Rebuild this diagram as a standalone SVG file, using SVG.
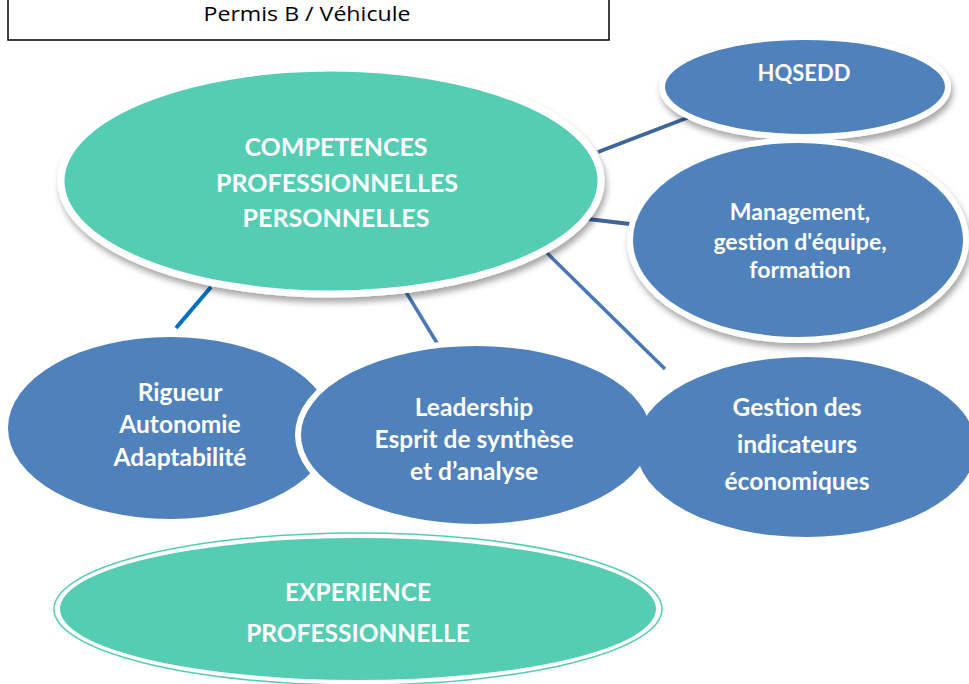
<svg xmlns="http://www.w3.org/2000/svg" width="969" height="684" viewBox="0 0 969 684">
<defs>
<style>
.t{font-family:Lato,"Open Sans","Liberation Sans",sans-serif;font-weight:bold;fill:#fff;text-anchor:middle}
.blue{fill:#4F81BD;stroke:#fff;stroke-width:6}
.con{fill:none;stroke-linecap:butt}
</style>
<filter id="sh" x="-10%" y="-10%" width="120%" height="130%">
<feDropShadow dx="2" dy="5" stdDeviation="3" flood-color="#000" flood-opacity="0.35"/>
</filter>
</defs>
<rect width="969" height="684" fill="#fff"/>
<g id="permis">
<rect x="8" y="-5" width="601" height="45" fill="#fff" stroke="#000" stroke-width="1.5"/>
<text x="307" y="21" textLength="207" lengthAdjust="spacingAndGlyphs" style="font-family:'Open Sans','Liberation Sans',sans-serif;font-size:20px;fill:#000;text-anchor:middle">Permis B / Véhicule</text>
</g>
<g id="connectors">
<line class="con" x1="598" y1="152" x2="692" y2="116" stroke="#3E6699" stroke-width="4"/>
<line class="con" x1="588" y1="219" x2="630" y2="224" stroke="#3E6699" stroke-width="4"/>
<line class="con" x1="547" y1="253" x2="665" y2="369" stroke="#4A78B5" stroke-width="3.5"/>
<line class="con" x1="211" y1="287" x2="176" y2="328" stroke="#0070C0" stroke-width="4"/>
<line class="con" x1="406" y1="292" x2="437" y2="343" stroke="#4A78B5" stroke-width="3.5"/>
</g>
<g id="competences">
<ellipse cx="331" cy="181" rx="270" ry="113" fill="#55CDB3" stroke="#fff" stroke-width="7" filter="url(#sh)"/>
<text class="t" x="336" y="156" font-size="25">COMPETENCES</text>
<text class="t" x="337" y="192" font-size="25">PROFESSIONNELLES</text>
<text class="t" x="336" y="227" font-size="25">PERSONNELLES</text>
</g>
<g id="hqsedd">
<ellipse class="blue" cx="805" cy="87" rx="143" ry="50" filter="url(#sh)"/>
<text class="t" x="804" y="81" font-size="22">HQSEDD</text>
</g>
<g id="management">
<ellipse class="blue" cx="798" cy="240" rx="168" ry="100" filter="url(#sh)"/>
<text class="t" x="800" y="220" font-size="23">Management,</text>
<text class="t" x="800" y="250" font-size="23">gestion d'équipe,</text>
<text class="t" x="800" y="278" font-size="23">formation</text>
</g>
<g id="rigueur">
<ellipse cx="170" cy="428" rx="162" ry="91" fill="#4F81BD"/>
<text class="t" x="180" y="401" font-size="24.5">Rigueur</text>
<text class="t" x="180" y="433" font-size="24.5">Autonomie</text>
<text class="t" x="180" y="466" font-size="24.5">Adaptabilité</text>
</g>
<g id="leadership">
<ellipse class="blue" cx="476" cy="435" rx="178" ry="92"/>
<text class="t" x="474" y="416" font-size="24.5">Leadership</text>
<text class="t" x="474" y="448" font-size="24.5">Esprit de synthèse</text>
<text class="t" x="474" y="480" font-size="24.5">et d’analyse</text>
</g>
<g id="gestion">
<ellipse cx="806" cy="447" rx="170" ry="90" fill="#4F81BD"/>
<text class="t" x="797" y="416" font-size="24.5">Gestion des</text>
<text class="t" x="797" y="453" font-size="24.5">indicateurs</text>
<text class="t" x="797" y="490" font-size="24.5">économiques</text>
</g>
<g id="experience">
<ellipse cx="358" cy="609" rx="304" ry="76" fill="none" stroke="#55CDB3" stroke-width="1.5"/>
<ellipse cx="358" cy="609" rx="298" ry="71" fill="#55CDB3"/>
<text class="t" x="358" y="601" font-size="24.5">EXPERIENCE</text>
<text class="t" x="358" y="642" font-size="24.5">PROFESSIONNELLE</text>
</g>
</svg>
